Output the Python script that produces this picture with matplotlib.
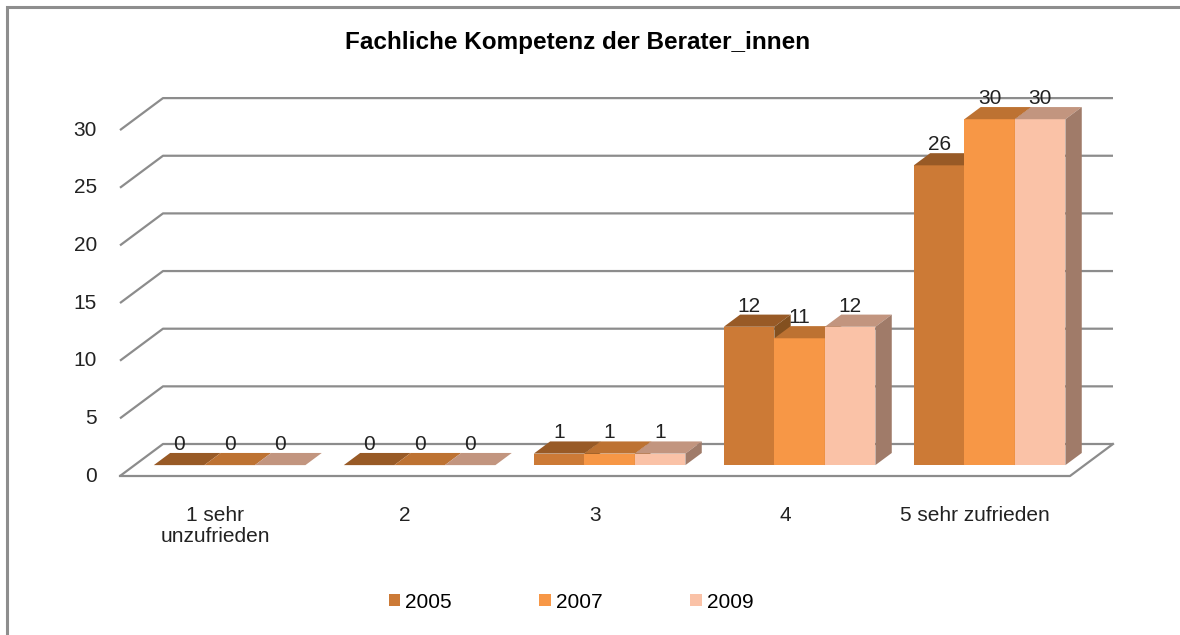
import matplotlib.pyplot as plt
from matplotlib.patches import Polygon, Patch, Rectangle

# data
categories = ['1 sehr\nunzufrieden', '2', '3', '4', '5 sehr zufrieden']
years = ['2005', '2007', '2009']
values_2005 = [0, 0, 1, 12, 26]
values_2007 = [0, 0, 1, 11, 30]
values_2009 = [0, 0, 1, 12, 30]
yticks = [0, 5, 10, 15, 20, 25, 30]

front_colors = ['#CC7A36', '#F79746', '#FAC2A7']
top_colors = ['#985A26', '#BD7232', '#C2957F']
side_colors = ['#83501F', '#B06A2E', '#A07B69']
grid_color = '#8C8C8C'

plt.rcParams['font.family'] = ['Liberation Sans', 'DejaVu Sans']

# pseudo-3D projection: depth z in [0, 1] shifts up-right
DX = 43 / 190
DY = 32 / 11.53
Z0, Z1 = 0.34, 0.72


def P(x, y, z):
    return (x + DX * z, y + DY * z)


fig = plt.figure(figsize=(11.8, 6.35), dpi=100)
ax = fig.add_axes([0, 0, 1, 1])
ax.set_xlim(-120 / 190, 1060 / 190)
ax.set_ylim(-159 / 11.53, 476 / 11.53)
ax.axis('off')

# outer border
fig.patches.append(Rectangle((7 / 1180, -0.1), 1.2, 1 - 7 / 635 + 0.1,
                             transform=fig.transFigure, fill=False,
                             edgecolor='#8E8E8E', linewidth=2.2))

n = len(categories)
# back wall gridlines + left diagonals
for v in yticks:
    xs, ys = zip(P(0, v, 0), P(0, v, 1), P(n, v, 1))
    ax.plot(xs, ys, color=grid_color, lw=1.6, zorder=1, solid_capstyle='butt')
    ax.text(-23 / 190, v, str(v), ha='right', va='center', fontsize=15,
            color='#222222')
# floor
xs, ys = zip(P(0, 0, 0), P(n, 0, 0), P(n, 0, 1))
ax.plot(xs, ys, color=grid_color, lw=1.6, zorder=1)

series = [values_2005, values_2007, values_2009]
w = 0.266
for i in range(n):
    left0 = i + 0.5 - 1.5 * w
    for k, vals in enumerate(series):
        h = vals[i]
        xl = left0 + k * w
        xr = xl + w
        z = 2 + i * 3 + k
        ax.bar(xl + DX * Z0, h, width=w, bottom=DY * Z0, align='edge',
               color=front_colors[k], linewidth=0, zorder=z)
        ax.add_patch(Polygon([P(xl, h, Z0), P(xr, h, Z0), P(xr, h, Z1), P(xl, h, Z1)],
                             closed=True, facecolor=top_colors[k], lw=0, zorder=z))
        if h > 0:
            ax.add_patch(Polygon([P(xr, 0, Z0), P(xr, h, Z0), P(xr, h, Z1), P(xr, 0, Z1)],
                                 closed=True, facecolor=side_colors[k], lw=0, zorder=z))
        ax.text(xl + w / 2 + DX * Z0, h + DY * Z1 + 3 / 11.53, str(h), ha='center',
                va='baseline', fontsize=15, color='#222222', zorder=50)
    ax.text(i + 0.5, -30 / 11.53, categories[i], ha='center', va='top',
            fontsize=15, color='#222222', linespacing=1.12)

fig.text(578 / 1180, 1 - 43 / 635, 'Fachliche Kompetenz der Berater_innen',
         ha='center', va='center', fontsize=17.5, fontweight='bold')

handles = [Patch(facecolor=c, edgecolor='none') for c in front_colors]
fig.legend(handles, years, loc='center', bbox_to_anchor=(571 / 1180, 1 - 602 / 635),
           ncol=3, frameon=False, fontsize=15, handlelength=0.55, handleheight=0.55,
           handletextpad=0.25, columnspacing=4.2)

fig.savefig('out.png', dpi=100)
